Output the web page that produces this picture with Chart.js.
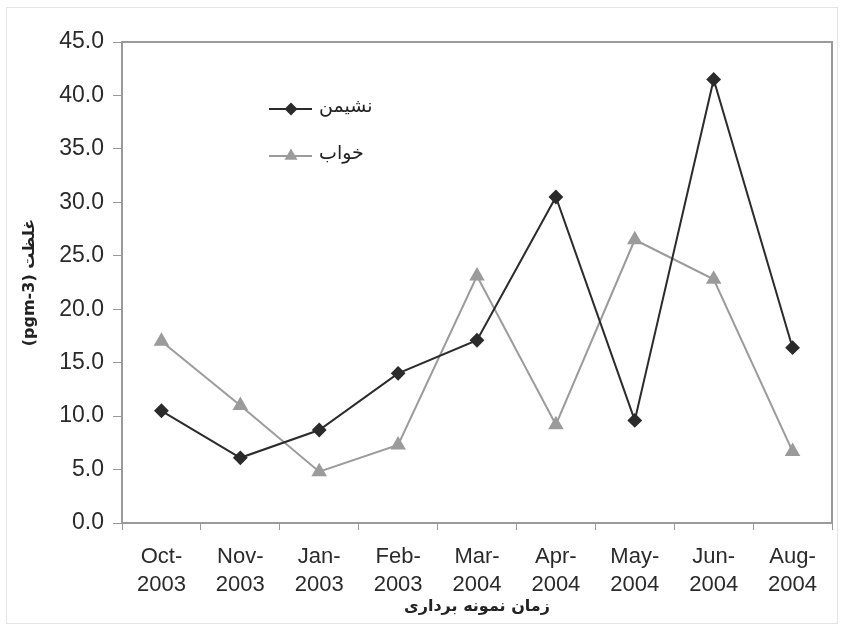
<!DOCTYPE html>
<html>
<head>
<meta charset="utf-8">
<script src="https://cdn.jsdelivr.net/npm/chart.js@4.4.1/dist/chart.umd.min.js"></script>
<style>
  html, body { margin: 0; padding: 0; background: #fff; }
  .chart-wrapper { position: relative; width: 841px; height: 628px; }
</style>
</head>
<body>
<div class="chart-wrapper">
  <canvas id="chart" width="841" height="628"></canvas>
</div>
<script>
// Sampling months (x categories), two lines each
const categories = [
  ['Oct-', '2003'], ['Nov-', '2003'], ['Jan-', '2003'], ['Feb-', '2003'],
  ['Mar-', '2004'], ['Apr-', '2004'], ['May-', '2004'], ['Jun-', '2004'], ['Aug-', '2004'],
];
const livingRoom = [10.5, 6.1, 8.7, 14.0, 17.1, 30.5, 9.6, 41.5, 16.4];   // نشیمن
const bedroom = [17.0, 11.0, 4.8, 7.3, 23.1, 9.2, 26.5, 22.8, 6.7];       // خواب
const yTicks = [0, 5, 10, 15, 20, 25, 30, 35, 40, 45];

const FONT = "'Liberation Sans', Arial, 'DejaVu Sans', sans-serif";
const AR_FONT = "'DejaVu Sans', 'Noto Sans', sans-serif";

// frame around plot area + faint frame around the whole picture
const frame = {
  id: 'frame',
  beforeDraw: (chart) => {
    const { ctx } = chart;
    ctx.save();
    ctx.fillStyle = '#fff';
    ctx.fillRect(0, 0, chart.width, chart.height);
    ctx.strokeStyle = '#e4e4e4';
    ctx.lineWidth = 1;
    ctx.strokeRect(6.5, 7.5, chart.width - 10, chart.height - 12);
    ctx.restore();
  },
  beforeDatasetsDraw: (chart) => {
    const { ctx, chartArea: a } = chart;
    ctx.save();
    ctx.strokeStyle = '#9a9a9a';
    ctx.lineWidth = 2;
    ctx.strokeRect(a.left, a.top, a.right - a.left, a.bottom - a.top);
    ctx.restore();
  },
};

// legend drawn inside the plot: line sample with marker on the left, label on the right
const insideLegend = {
  id: 'insideLegend',
  afterDraw: (chart) => {
    const { ctx } = chart;
    const x0 = 269, x1 = 312, xm = 291;
    chart.data.datasets.forEach((ds, i) => {
      const y = 109 + i * 47;
      ctx.save();
      ctx.strokeStyle = ds.borderColor;
      ctx.lineWidth = ds.borderWidth;
      ctx.beginPath();
      ctx.moveTo(x0, y);
      ctx.lineTo(x1, y);
      ctx.stroke();
      ctx.fillStyle = ds.pointBackgroundColor;
      ctx.beginPath();
      if (ds.pointStyle === 'rectRot') {
        const r = 6.5;
        ctx.moveTo(xm, y - r); ctx.lineTo(xm + r, y); ctx.lineTo(xm, y + r); ctx.lineTo(xm - r, y);
      } else {
        const r = 7.5;
        ctx.moveTo(xm, y - r); ctx.lineTo(xm + r * 0.87, y + r * 0.5); ctx.lineTo(xm - r * 0.87, y + r * 0.5);
      }
      ctx.closePath();
      ctx.fill();
      ctx.fillStyle = '#222';
      ctx.font = '19px ' + AR_FONT;
      ctx.textAlign = 'left';
      ctx.textBaseline = 'middle';
      ctx.fillText(ds.label, 319, y - 2);
      ctx.restore();
    });
  },
};

new Chart(document.getElementById('chart').getContext('2d'), {
  type: 'line',
  data: {
    labels: categories,
    datasets: [
      {
        label: 'نشیمن',
        data: livingRoom,
        borderColor: '#2b2b2b',
        backgroundColor: '#2b2b2b',
        pointBackgroundColor: '#2b2b2b',
        pointBorderColor: '#2b2b2b',
        borderWidth: 2,
        pointStyle: 'rectRot',
        pointRadius: 6,
        tension: 0,
      },
      {
        label: 'خواب',
        data: bedroom,
        borderColor: '#9b9b9b',
        backgroundColor: '#9b9b9b',
        pointBackgroundColor: '#9b9b9b',
        pointBorderColor: '#9b9b9b',
        borderWidth: 2,
        pointStyle: 'triangle',
        pointRadius: 7,
        tension: 0,
      },
    ],
  },
  options: {
    responsive: false,
    animation: false,
    layout: { padding: { top: 42, right: 9, left: 20, bottom: 12 } },
    plugins: {
      legend: { display: false },
      tooltip: { enabled: false },
    },
    scales: {
      x: {
        offset: true,
        grid: { offset: true, drawOnChartArea: false, tickLength: 7, color: '#9a9a9a', lineWidth: 1 },
        border: { display: false },
        ticks: {
          color: '#2a2a2a',
          font: { family: FONT, size: 22, lineHeight: 1.27 },
          padding: 13,
          maxRotation: 0,
          autoSkip: false,
        },
        title: {
          display: true,
          text: 'زمان نمونه برداری',
          color: '#222',
          font: { family: AR_FONT, size: 16, weight: 'bold' },
          padding: { top: 0, bottom: 0 },
        },
        afterFit: (scale) => { scale.height = 93; },
      },
      y: {
        min: 0,
        max: 45,
        afterBuildTicks: (scale) => { scale.ticks = yTicks.map((v) => ({ value: v })); },
        grid: { drawOnChartArea: false, tickLength: 9, color: '#9a9a9a', lineWidth: 1 },
        border: { display: false },
        ticks: {
          color: '#2a2a2a',
          font: { family: FONT, size: 23 },
          padding: 9,
          callback: (v) => Number(v).toFixed(1),
        },
        title: {
          display: true,
          text: '(pgm-3) غلظت',
          color: '#222',
          font: { family: AR_FONT, size: 16, weight: 'bold' },
          padding: { top: 0, bottom: 6 },
        },
        afterFit: (scale) => { scale.width = 102; },
      },
    },
  },
  plugins: [frame, insideLegend],
});
</script>
</body>
</html>
